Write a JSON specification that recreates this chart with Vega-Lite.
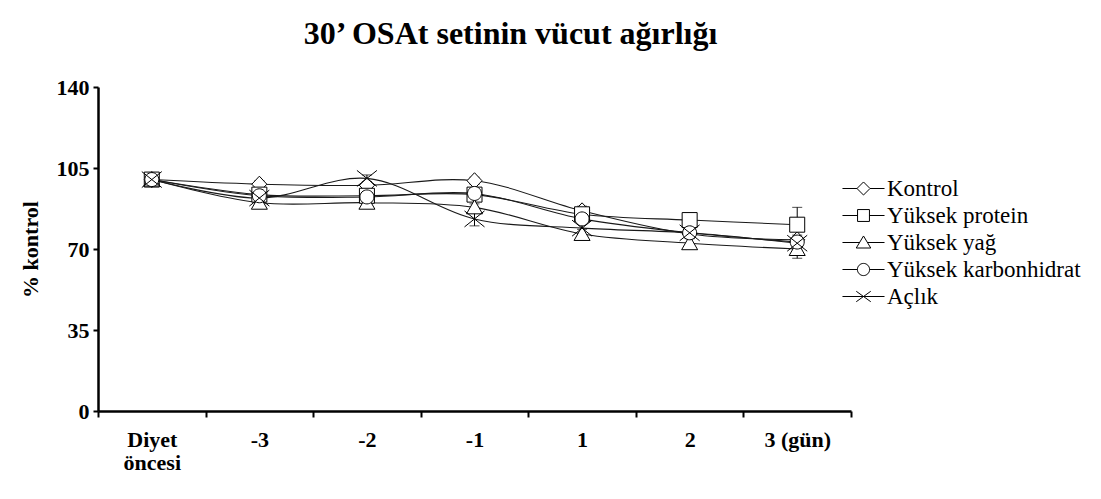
{
  "$schema": "https://vega.github.io/schema/vega-lite/v6.json",
  "width": 753,
  "height": 324,
  "autosize": {"type": "none"},
  "padding": {"left": 98, "top": 87, "right": 250, "bottom": 88},
  "background": "white",
  "config": {"view": {"stroke": null}},
  "title": {
    "text": "30’ OSAt setinin vücut ağırlığı",
    "font": "Liberation Serif",
    "fontSize": 32,
    "fontWeight": "bold",
    "color": "black",
    "anchor": "middle",
    "baseline": "alphabetic",
    "offset": 0,
    "dx": 36
  },
  "data": {
    "values": [
      {"s": "Kontrol", "t": "Diyet öncesi", "v": 100, "err": 0},
      {"s": "Kontrol", "t": "-3", "v": 98, "err": 1.5},
      {"s": "Kontrol", "t": "-2", "v": 97.5, "err": 1.5},
      {"s": "Kontrol", "t": "-1", "v": 99.5, "err": 1.5},
      {"s": "Kontrol", "t": "1", "v": 86.5, "err": 2},
      {"s": "Kontrol", "t": "2", "v": 76.5, "err": 2},
      {"s": "Kontrol", "t": "3", "v": 74, "err": 2},
      {"s": "Yüksek protein", "t": "Diyet öncesi", "v": 100, "err": 0},
      {"s": "Yüksek protein", "t": "-3", "v": 93.5, "err": 1.5},
      {"s": "Yüksek protein", "t": "-2", "v": 93, "err": 1.5},
      {"s": "Yüksek protein", "t": "-1", "v": 93.5, "err": 1.5},
      {"s": "Yüksek protein", "t": "1", "v": 85, "err": 1.5},
      {"s": "Yüksek protein", "t": "2", "v": 82.5, "err": 2},
      {"s": "Yüksek protein", "t": "3", "v": 80.5, "err": 7.5},
      {"s": "Yüksek yağ", "t": "Diyet öncesi", "v": 100, "err": 0},
      {"s": "Yüksek yağ", "t": "-3", "v": 90, "err": 1},
      {"s": "Yüksek yağ", "t": "-2", "v": 90, "err": 1},
      {"s": "Yüksek yağ", "t": "-1", "v": 88, "err": 1.5},
      {"s": "Yüksek yağ", "t": "1", "v": 76.5, "err": 2},
      {"s": "Yüksek yağ", "t": "2", "v": 72.5, "err": 2},
      {"s": "Yüksek yağ", "t": "3", "v": 70, "err": 4},
      {"s": "Yüksek karbonhidrat", "t": "Diyet öncesi", "v": 100, "err": 0},
      {"s": "Yüksek karbonhidrat", "t": "-3", "v": 93, "err": 1.5},
      {"s": "Yüksek karbonhidrat", "t": "-2", "v": 92.5, "err": 1.5},
      {"s": "Yüksek karbonhidrat", "t": "-1", "v": 94, "err": 1.5},
      {"s": "Yüksek karbonhidrat", "t": "1", "v": 83, "err": 1.5},
      {"s": "Yüksek karbonhidrat", "t": "2", "v": 77, "err": 2},
      {"s": "Yüksek karbonhidrat", "t": "3", "v": 73, "err": 2},
      {"s": "Açlık", "t": "Diyet öncesi", "v": 100, "err": 0},
      {"s": "Açlık", "t": "-3", "v": 92, "err": 1.5},
      {"s": "Açlık", "t": "-2", "v": 100.5, "err": 1.5},
      {"s": "Açlık", "t": "-1", "v": 83, "err": 3},
      {"s": "Açlık", "t": "1", "v": 79, "err": 3},
      {"s": "Açlık", "t": "2", "v": 77, "err": 2},
      {"s": "Açlık", "t": "3", "v": 72.5, "err": 2.5}
    ]
  },
  "encoding": {
    "x": {
      "field": "t",
      "type": "nominal",
      "sort": ["Diyet öncesi", "-3", "-2", "-1", "1", "2", "3"],
      "scale": {"type": "band", "paddingInner": 0, "paddingOuter": 0},
      "title": null,
      "axis": {
        "grid": false,
        "domainColor": "black",
        "domainWidth": 2.5,
        "tickColor": "black",
        "tickWidth": 2,
        "tickSize": 6,
        "tickBand": "extent",
        "labelAngle": 0,
        "labelFont": "Liberation Serif",
        "labelFontSize": 22,
        "labelFontWeight": "bold",
        "labelColor": "black",
        "labelPadding": 12,
        "labelLineHeight": 23,
        "labelOverlap": false,
        "labelExpr": "datum.value == 'Diyet öncesi' ? ['Diyet', 'öncesi'] : (datum.value == '3' ? '3 (gün)' : datum.value)"
      }
    },
    "y": {
      "field": "v",
      "type": "quantitative",
      "scale": {"domain": [0, 140], "nice": false},
      "title": "% kontrol",
      "axis": {
        "grid": false,
        "values": [0, 35, 70, 105, 140],
        "domainColor": "black",
        "domainWidth": 2.5,
        "tickColor": "black",
        "tickWidth": 2,
        "tickSize": 5,
        "labelFont": "Liberation Serif",
        "labelFontSize": 22,
        "labelFontWeight": "bold",
        "labelColor": "black",
        "labelPadding": 4,
        "titleFont": "Liberation Serif",
        "titleFontSize": 22,
        "titleFontWeight": "bold",
        "titleColor": "black",
        "titlePadding": 14
      }
    }
  },
  "layer": [
    {
      "mark": {"type": "errorbar", "ticks": {"size": 10}, "color": "black", "thickness": 1},
      "encoding": {
        "y": {"field": "v", "type": "quantitative"},
        "yError": {"field": "err"},
        "detail": {"field": "s"}
      }
    },
    {
      "mark": {"type": "line", "interpolate": "catmull-rom", "strokeWidth": 1.1, "color": "#1a1a1a"},
      "encoding": {
        "detail": {"field": "s"}
      }
    },
    {
      "mark": {"type": "point", "filled": true, "fill": "white", "stroke": "black", "strokeWidth": 1, "size": 400, "opacity": 1},
      "encoding": {
        "shape": {
          "field": "s",
          "type": "nominal",
          "scale": {
            "domain": ["Kontrol", "Yüksek protein", "Yüksek yağ", "Yüksek karbonhidrat", "Açlık"],
            "range": [
              "M0,-0.8L0.75,0L0,0.8L-0.75,0Z",
              "M-0.75,-0.75H0.75V0.75H-0.75Z",
              "M0,-0.75L0.8,0.65H-0.8Z",
              "M0.7,0C0.7,0.3866,0.3866,0.7,0,0.7C-0.3866,0.7,-0.7,0.3866,-0.7,0C-0.7,-0.3866,-0.3866,-0.7,0,-0.7C0.3866,-0.7,0.7,-0.3866,0.7,0Z",
              "M-1,-0.8L1,0.8M-1,0.8L1,-0.8"
            ]
          },
          "legend": null
        }
      }
    },
    {
      "transform": [{"filter": "datum.v > 1000"}],
      "mark": {"type": "point", "filled": false, "color": "black", "strokeWidth": 1, "opacity": 1},
      "encoding": {
        "shape": {
          "field": "s",
          "type": "nominal",
          "scale": {
            "domain": ["Kontrol", "Yüksek protein", "Yüksek yağ", "Yüksek karbonhidrat", "Açlık"],
            "range": [
              "M-1.45,0H-0.45M0.45,0H1.45M0,-0.45L0.45,0L0,0.45L-0.45,0Z",
              "M-1.45,0H-0.41M0.41,0H1.45M-0.41,-0.41H0.41V0.41H-0.41Z",
              "M-1.45,0H-0.27M0.27,0H1.45M0,-0.45L0.5,0.38H-0.5Z",
              "M-1.45,0H-0.42M0.42,0H1.45M0.42,0C0.42,0.232,0.232,0.42,0,0.42C-0.232,0.42,-0.42,0.232,-0.42,0C-0.42,-0.232,-0.232,-0.42,0,-0.42C0.232,-0.42,0.42,-0.232,0.42,0Z",
              "M-1.45,0H1.45M-0.5,-0.36L0.5,0.36M-0.5,0.36L0.5,-0.36"
            ]
          },
          "legend": {
            "title": null,
            "orient": "none",
            "legendX": 750.5,
            "legendY": 86.5,
            "padding": 0,
            "symbolSize": 841,
            "symbolStrokeWidth": 1,
            "symbolStrokeColor": "black",
            "symbolOpacity": 1,
            "labelFont": "Liberation Serif",
            "labelFontSize": 23,
            "labelColor": "black",
            "labelOffset": 8.5,
            "labelLimit": 0,
            "rowPadding": 0,
            "symbolLimit": 0
          }
        }
      }
    }
  ],
  "resolve": {"scale": {"shape": "independent"}, "legend": {"shape": "independent"}}
}
